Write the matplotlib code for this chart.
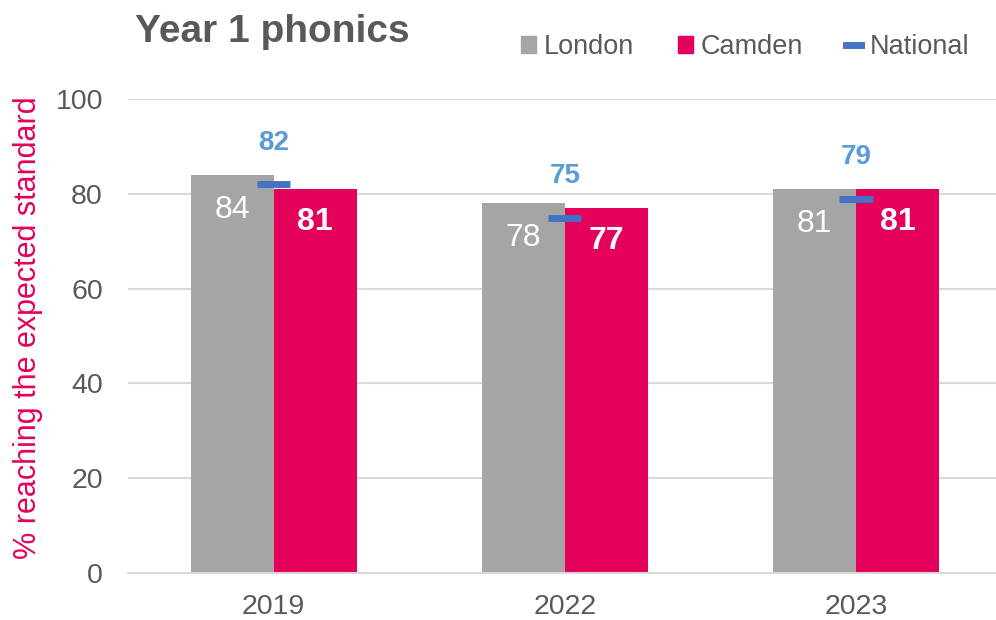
import numpy as np
import matplotlib.pyplot as plt
from matplotlib.patches import Patch
from matplotlib.lines import Line2D

plt.rcParams['font.family'] = ['Liberation Sans', 'DejaVu Sans']

# donnees
years = ['2019', '2022', '2023']
london = [84, 78, 81]
camden = [81, 77, 81]
national = [82, 75, 79]

grey = '#A5A5A5'
pink = '#E4005B'
blue = '#4472C4'
light_blue = '#5B9BD5'
text_col = '#595959'

fig = plt.figure(figsize=(9.96, 6.2), dpi=100)
ax = fig.add_axes([128 / 996, 47 / 620, 873.5 / 996, 474 / 620])

x = np.arange(len(years))
w = 0.285

ax.bar(x - w / 2, london, w, color=grey, zorder=2)
ax.bar(x + w / 2, camden, w, color=pink, zorder=2)
ax.hlines(national, x - 0.057, x + 0.057, color=blue, lw=5, zorder=3)

# etiquettes des valeurs
for i in range(len(years)):
    ax.annotate(str(london[i]), (x[i] - w / 2, london[i]), xytext=(0, -25),
                textcoords='offset points', ha='center', va='center',
                color='white', fontsize=23)
    ax.annotate(str(camden[i]), (x[i] + w / 2, camden[i]), xytext=(0, -24),
                textcoords='offset points', ha='center', va='center',
                color='white', fontsize=23, fontweight='bold')
    ax.annotate(str(national[i]), (x[i], national[i]), xytext=(0, 30),
                textcoords='offset points', ha='center', va='center',
                color=light_blue, fontsize=20, fontweight='bold')

ax.set_xlim(-0.5, 2.5)
ax.set_ylim(0, 100)
ax.set_yticks(range(0, 101, 20))
ax.set_xticks(x)
ax.set_xticklabels(years)
ax.tick_params(axis='both', length=0, labelsize=20.5, labelcolor=text_col)
ax.tick_params(axis='y', pad=18)
ax.tick_params(axis='x', pad=15)
ax.grid(axis='y', color='#D9D9D9', lw=1.5, zorder=0)
ax.set_axisbelow(True)
for s in ['top', 'right', 'left']:
    ax.spines[s].set_visible(False)
ax.spines['bottom'].set_color('#D9D9D9')
ax.spines['bottom'].set_linewidth(1.5)

fig.text(28 / 996, 1 - 328 / 620, '% reaching the expected standard',
         rotation=90, ha='center', va='center', color=pink, fontsize=22)

fig.text(135 / 996, 1 - 32 / 620, 'Year 1 phonics', ha='left', va='center',
         fontsize=28, fontweight='bold', color=text_col)

handles = [Patch(color=grey), Patch(color=pink),
           Line2D([0], [0], color=blue, lw=5)]
fig.legend(handles, ['London', 'Camden', 'National'], ncol=3,
           loc='center', bbox_to_anchor=(745 / 996, 1 - 47 / 620),
           frameon=False, fontsize=19.5, labelcolor=text_col,
           handlelength=0.55, handleheight=0.55, handletextpad=0.3,
           columnspacing=1.6)

fig.savefig('out.png', dpi=100)
